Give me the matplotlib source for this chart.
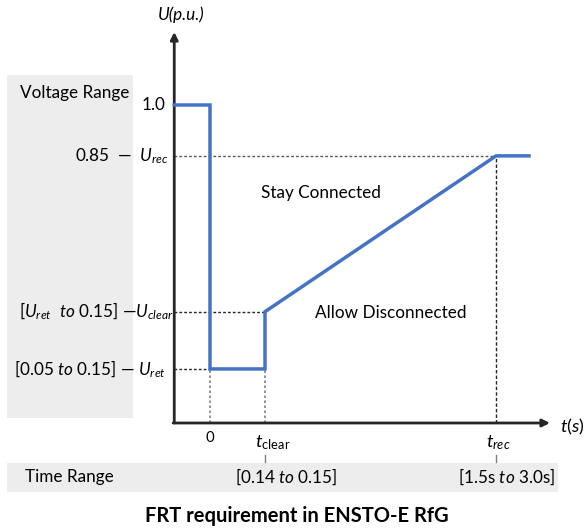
import matplotlib
matplotlib.use("Agg")
import matplotlib.pyplot as plt
from matplotlib.patches import Rectangle

plt.rcParams['font.family'] = ['Lato', 'DejaVu Sans']
plt.rcParams['mathtext.fontset'] = 'custom'
plt.rcParams['mathtext.rm'] = 'Lato'
plt.rcParams['mathtext.it'] = 'Lato:italic'
plt.rcParams['mathtext.sf'] = 'Lato'

# schematic FRT profile (not to scale)
t_start, t_zero, t_clear, t_rec, t_end = -0.65, 0.0, 1.0, 5.2, 5.8
u_pre, u_rec, u_clear, u_ret = 1.0, 0.84, 0.35, 0.17

t_curve = [t_start, t_zero, t_zero, t_clear, t_clear, t_rec, t_end]
u_curve = [u_pre, u_pre, u_ret, u_ret, u_clear, u_rec, u_rec]

v_labels = ["1.0", "0.85  \u2014  $U_{rec}$", "[$U_{ret}$  $to$ 0.15] \u2014$U_{clear}$",
            "[0.05 $to$ 0.15] \u2014 $U_{ret}$"]
v_levels = [u_pre, u_rec, u_clear, u_ret]
t_ticks = [t_zero, t_clear, t_rec]
t_labels = ["0", r"$t_{\mathrm{clear}}$", r"$t_{rec}$"]
t_ranges = ["", r"[0.14 $to$ 0.15]", r"[1.5s $to$ 3.0s]"]

blue = "#4472C4"
dark = "#262626"
grey_box = "#EDEDED"

W, H = 586, 530
px_t, px_u = 55.0, 318.0  # pixels per unit
x0_px, y0_px = 210, 423


def from_px(px, py):
    return (px - x0_px) / px_t, (y0_px - py) / px_u


fig = plt.figure(figsize=(W / 100, H / 100), dpi=100)
ax = fig.add_axes([0, 0, 1, 1])
ax.set_xlim(from_px(0, 0)[0], from_px(W, 0)[0])
ax.set_ylim(from_px(0, H)[1], from_px(0, 0)[1])
ax.axis("off")

# grey range boxes
bx0, by0 = from_px(7, 418)
bx1, by1 = from_px(133, 75)
ax.add_patch(Rectangle((bx0, by0), bx1 - bx0, by1 - by0, color=grey_box, lw=0, zorder=0))
cx0, cy0 = from_px(7, 492)
cx1, cy1 = from_px(558, 463)
ax.add_patch(Rectangle((cx0, cy0), cx1 - cx0, cy1 - cy0, color=grey_box, lw=0, zorder=0))

# axes arrows
ax.annotate("", xy=(t_start, from_px(0, 32)[1]), xytext=(t_start, 0),
            arrowprops=dict(arrowstyle="-|>", lw=2, color=dark, mutation_scale=11,
                            shrinkA=0, shrinkB=0))
ax.annotate("", xy=(from_px(550, 0)[0], 0), xytext=(t_start - 0.02, 0),
            arrowprops=dict(arrowstyle="-|>", lw=2, color=dark, mutation_scale=11,
                            shrinkA=0, shrinkB=0))

# guide lines
ax.plot([t_start, t_rec], [u_rec, u_rec], color="#595959", lw=1, ls=(0, (2, 1.5)))
ax.plot([t_start, t_clear], [u_clear, u_clear], color=dark, lw=1, ls=(0, (2, 1.5)))
ax.plot([t_start, t_zero], [u_ret, u_ret], color=dark, lw=1, ls=(0, (2, 1.5)))
ax.plot([t_zero, t_zero], [0, u_ret], color="#7f7f7f", lw=1.2, ls=(0, (1.5, 1.5)))
ax.plot([t_clear, t_clear], [0, u_ret], color="#7f7f7f", lw=1.2, ls=(0, (1.5, 1.5)))
ax.plot([t_rec, t_rec], [0, u_rec], color=dark, lw=1, ls=(0, (2.5, 1.5)))

# FRT curve
ax.plot(t_curve, u_curve, color=blue, lw=2.5, solid_joinstyle="miter", zorder=3)

fs = 12.3
ax.text(*from_px(20, 93), "Voltage Range", fontsize=fs, ha="left", va="center")
rights = [165, 169, 174, 166]
for lab, lev, r in zip(v_labels, v_levels, rights):
    ax.text(from_px(r, 0)[0], lev, lab, fontsize=fs, ha="right", va="center")

ax.text(*from_px(181, 15), "U(p.u.)", fontsize=fs, style="italic", ha="center", va="center")
ax.text(*from_px(560, 427), r"$t(s)$", fontsize=fs + 1, ha="left", va="center")

ax.text(*from_px(321, 193), "Stay Connected", fontsize=fs, ha="center", va="center")
ax.text(*from_px(391, 313), "Allow Disconnected", fontsize=fs, ha="center", va="center")

label_x = [210, 273, 498]
range_right = [0, 337, 555]
for t, lab, rng, lx, rr in zip(t_ticks, t_labels, t_ranges, label_x, range_right):
    if lab == "0":
        ax.text(*from_px(lx, 438), lab, fontsize=fs - 1.5, ha="center", va="center")
        continue
    ax.text(*from_px(lx, 443), lab, fontsize=fs + 1, ha="center", va="center")
    ax.plot([t, t], [from_px(0, 455)[1], from_px(0, 462)[1]], color="#7f7f7f", lw=1)
    ax.text(*from_px(rr, 477), rng, fontsize=fs, ha="right", va="center")

ax.text(*from_px(25, 477), "Time Range", fontsize=fs, ha="left", va="center")

ax.text(*from_px(297, 516), "FRT requirement in ENSTO-E RfG", fontsize=14.5,
        fontweight="bold", ha="center", va="center")

fig.savefig("out.png", dpi=100)
